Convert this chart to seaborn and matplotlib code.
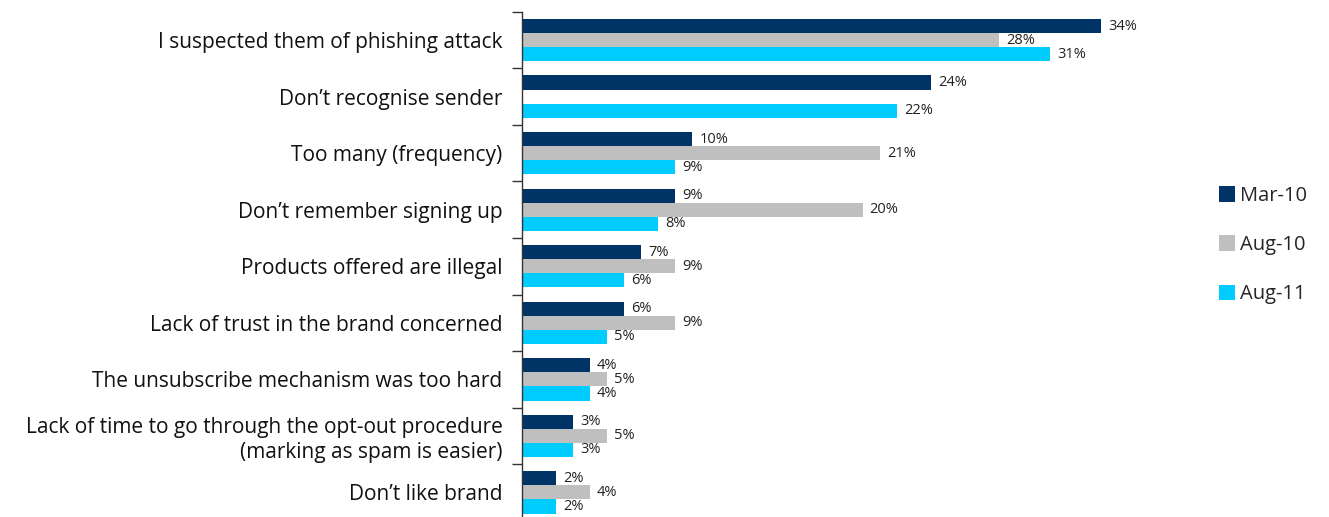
import numpy as np
import pandas as pd
import seaborn as sns
import matplotlib.pyplot as plt
from matplotlib.patches import Patch

categories = [
    "I suspected them of phishing attack",
    "Don\u2019t recognise sender",
    "Too many (frequency)",
    "Don\u2019t remember signing up",
    "Products offered are illegal",
    "Lack of trust in the brand concerned",
    "The unsubscribe mechanism was too hard",
    "Lack of time to go through the opt-out procedure\n(marking as spam is easier)",
    "Don\u2019t like brand",
]
series = ["Mar-10", "Aug-10", "Aug-11"]
mar10 = [34, 24, 10, 9, 7, 6, 4, 3, 2]
aug10 = [28, np.nan, 21, 20, 9, 9, 5, 5, 4]
aug11 = [31, 22, 9, 8, 6, 5, 4, 3, 2]
colors = ["#003366", "#BFBFBF", "#00CCFF"]

rows = []
for name, vals in zip(series, [mar10, aug10, aug11]):
    for cat, v in zip(categories, vals):
        rows.append({"reason": cat, "period": name, "pct": v})
df = pd.DataFrame(rows)

sns.set_style("white")
plt.rcParams["font.family"] = ["Open Sans", "DejaVu Sans"]

fig = plt.figure(figsize=(13.29, 5.17), dpi=100)
ax = fig.add_axes([522 / 1329, -0.007, 0.5, 0.984])

sns.barplot(data=df, y="reason", x="pct", hue="period", hue_order=series,
            order=categories, palette=colors, orient="h", width=0.75,
            saturation=1, linewidth=0, ax=ax, legend=False, errorbar=None)

for cont in ax.containers:
    labels = ["" if np.isnan(w) else f"{w:.0f}%" for w in cont.datavalues]
    ax.bar_label(cont, labels=labels, padding=5, fontsize=10.5, color="#222222")

ax.set_xlim(0, 39)
ax.set_ylim(len(categories) - 0.5, -0.5)
ax.set_xlabel("")
ax.set_ylabel("")
ax.set_xticks([])
ax.tick_params(axis="y", which="major", left=False, length=0, pad=14,
               labelsize=15, labelcolor="#111111")
ax.set_yticks(np.arange(-0.5, len(categories), 1), minor=True)
ax.tick_params(axis="y", which="minor", left=True, length=7, width=1,
               color="#333333", direction="out")
for lbl in ax.get_yticklabels():
    lbl.set_horizontalalignment("right")
    lbl.set_multialignment("right")

for side in ["top", "right", "bottom"]:
    ax.spines[side].set_visible(False)
ax.spines["left"].set_color("#333333")
ax.spines["left"].set_linewidth(1)

handles = [Patch(facecolor=c, edgecolor="none") for c in colors]
fig.legend(handles, series, loc="center left", bbox_to_anchor=(1219 / 1329, 1 - 245 / 517),
           frameon=False, fontsize=14.5, handlelength=0.8, handleheight=0.8,
           handletextpad=0.25, labelspacing=1.45, borderpad=0, borderaxespad=0)

fig.savefig("out.png", dpi=100)
